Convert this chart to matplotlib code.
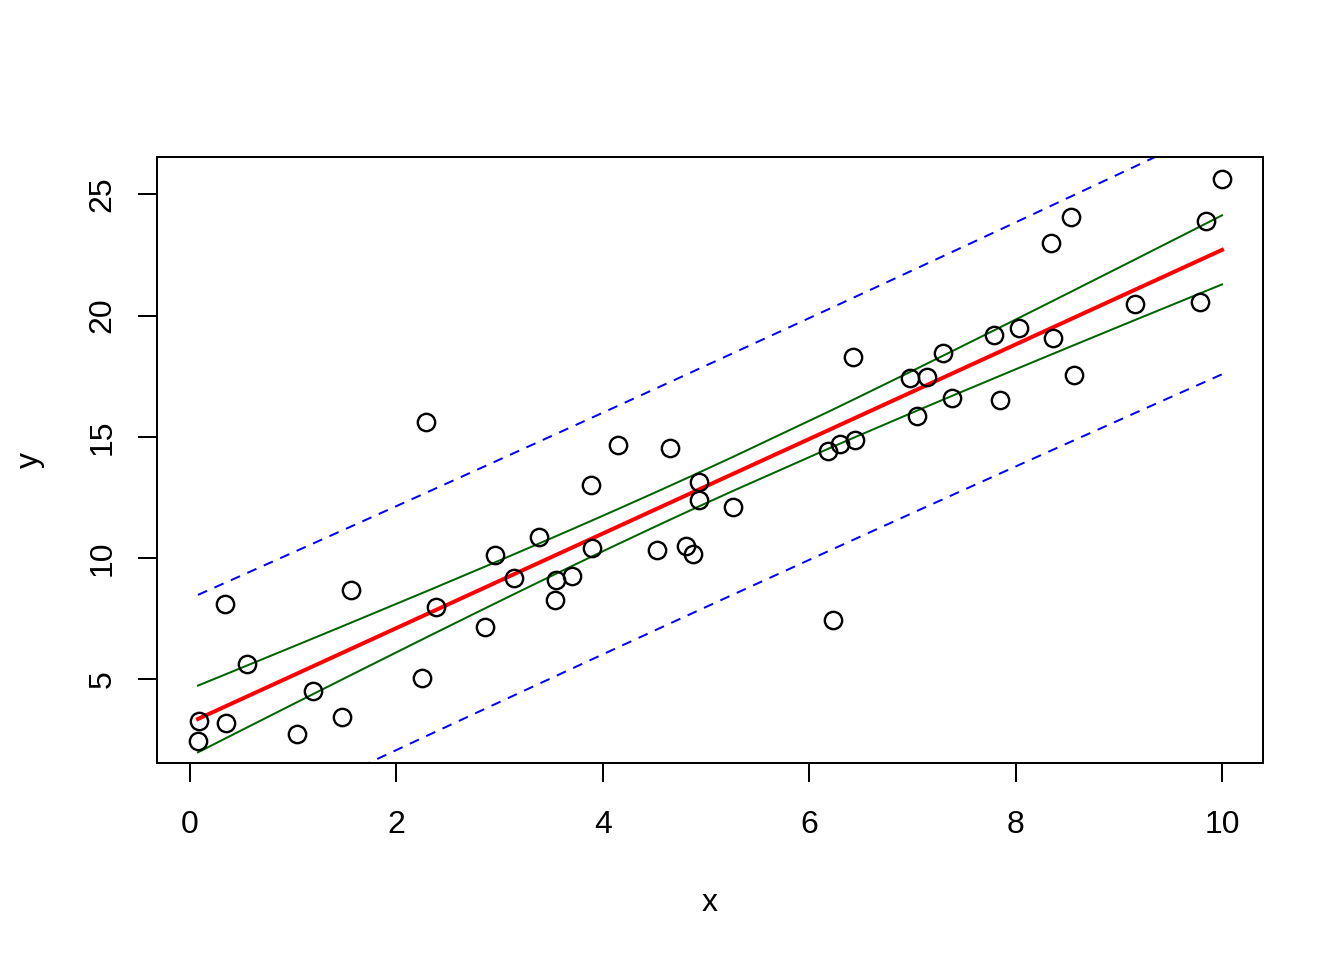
import numpy as np
import matplotlib.pyplot as plt

plt.rcParams["font.family"] = ["Liberation Sans", "DejaVu Sans"]

x = [0.087, 0.078, 0.34, 0.35, 0.55, 1.04, 1.19, 1.47, 1.56, 2.25,
     2.29, 2.38, 2.86, 2.96, 3.14, 3.38, 3.54, 3.55, 3.70, 3.89,
     3.90, 4.15, 4.53, 4.65, 4.81, 4.87, 4.93, 4.93, 5.26, 6.18,
     6.23, 6.30, 6.42, 6.44, 6.98, 7.04, 7.14, 7.30, 7.38, 7.79,
     7.85, 8.03, 8.34, 8.36, 8.54, 8.57, 9.16, 9.79, 9.84, 10.0]
y = [3.26, 2.47, 8.09, 3.19, 5.63, 2.72, 4.53, 3.44, 8.67, 5.04,
     15.60, 7.96, 7.17, 10.12, 9.19, 10.87, 8.28, 9.09, 9.26, 13.00,
     10.42, 14.65, 10.34, 14.53, 10.49, 10.17, 13.12, 12.40, 12.10, 14.40,
     7.46, 14.72, 18.31, 14.87, 17.42, 15.85, 17.45, 18.48, 16.59, 19.22,
     16.50, 19.50, 23.00, 19.08, 24.08, 17.54, 20.48, 20.58, 23.92, 25.62]

T975 = 2.010635  # t quantile, 48 df

xa = np.array(x)
ya = np.array(y)
n = len(xa)

# least squares fit with confidence and prediction bands
X = np.column_stack([np.ones(n), xa])
beta, res, _, _ = np.linalg.lstsq(X, ya, rcond=None)
resid = ya - X @ beta
s = np.sqrt(np.sum(resid ** 2) / (n - 2))
xs = np.sort(xa)
fit = beta[0] + beta[1] * xs
sxx = np.sum((xa - xa.mean()) ** 2)
se_fit = s * np.sqrt(1 / n + (xs - xa.mean()) ** 2 / sxx)
se_pred = s * np.sqrt(1 + 1 / n + (xs - xa.mean()) ** 2 / sxx)

fig = plt.figure(figsize=(7, 5), dpi=192)
ax = fig.add_axes([157 / 1344, 1 - 763 / 960, (1263 - 157) / 1344, (763 - 157) / 960])

ax.plot(xs, fit - T975 * se_pred, color="blue", lw=0.75, dashes=(5, 4))
ax.plot(xs, fit + T975 * se_pred, color="blue", lw=0.75, dashes=(5, 4))
ax.plot(xs, fit - T975 * se_fit, color="darkgreen", lw=0.75)
ax.plot(xs, fit + T975 * se_fit, color="darkgreen", lw=0.75)
ax.plot(xs, fit, color="red", lw=1.5)
ax.plot(xa, ya, "o", mfc="none", mec="black", ms=6.5, mew=0.9)

xr = xa.max() - xa.min()
yr = ya.max() - ya.min()
ax.set_xlim(xa.min() - 0.04 * xr, xa.max() + 0.04 * xr)
ax.set_ylim(ya.min() - 0.04 * yr, ya.max() + 0.04 * yr)

ax.set_xticks([0, 2, 4, 6, 8, 10])
ax.set_yticks([5, 10, 15, 20, 25])
ax.tick_params(direction="out", length=7.2, width=0.75, labelsize=12)
ax.tick_params(axis="x", pad=10.5)
ax.tick_params(axis="y", pad=7.5)
for lab in ax.get_yticklabels():
    lab.set_rotation(90)
    lab.set_va("center")
for sp in ax.spines.values():
    sp.set_linewidth(0.75)

fig.text(710 / 1344, 1 - 911 / 960, "x", ha="center", va="baseline", fontsize=12)
fig.text(30 / 1344, 1 - 460 / 960, "y", ha="center", va="center", rotation=90, fontsize=12)

fig.savefig("out.png", dpi=192)
